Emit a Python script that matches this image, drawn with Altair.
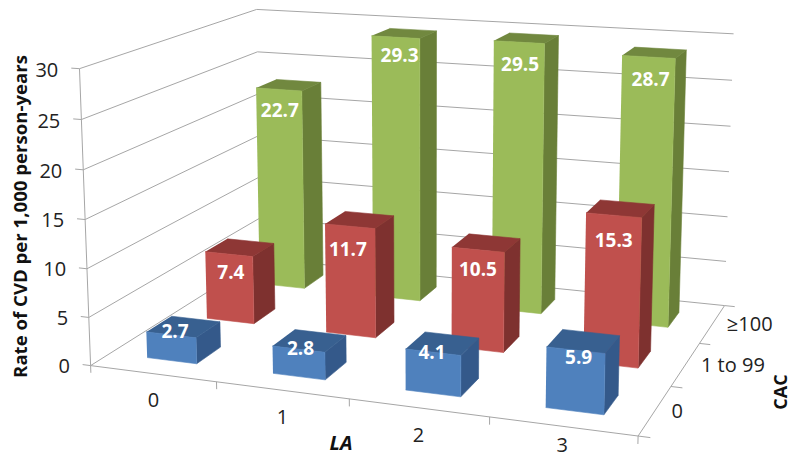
import numpy as np
import pandas as pd
import altair as alt

# ---- data ----
la_labels = ["0", "1", "2", "3"]
cac_labels = ["0", "1 to 99", "≥100"]
rate_cac_0 = [2.7, 2.8, 4.1, 5.9]
rate_cac_1_99 = [7.4, 11.7, 10.5, 15.3]
rate_cac_100 = [22.7, 29.3, 29.5, 28.7]
value_ticks = [0, 5, 10, 15, 20, 25, 30]
rows = [rate_cac_0, rate_cac_1_99, rate_cac_100]

# ---- styling ----
faces = [
    {"front": "#4F81BD", "side": "#34598A", "top": "#386090", "dx": [4, 2, -1, 3], "dy": [-3, 0, 1, 8]},
    {"front": "#C0504D", "side": "#7E312F", "top": "#8E3735", "dx": [2, -2, 0, 0], "dy": [19, 24, 20, 26]},
    {"front": "#9BBB59", "side": "#697F38", "top": "#71883F", "dx": [1, 4, 1, 2], "dy": [22, 19, 23, 23]},
]
GRID = "#A6A6A6"
BAR = 0.4
FONT = "Open Sans"

# ---- camera: perspective calibrated on the frame of the 3D box ----
calib = []
for z, p in zip(value_ticks, [(91, 365), (90, 317), (88, 268), (85, 220), (83, 170), (81, 119), (78, 67)]):
    calib.append(((0, 0, z), p))
for z, p in zip(value_ticks, [(260, 257), (259, 218), (258, 178), (258, 137), (258, 95), (258, 51), (258, 8)]):
    calib.append(((0, 3, z), p))
for z, p in zip(value_ticks, [(726, 304), (726, 261), (726, 217), (728, 172), (730, 127), (732, 81), (734, 34)]):
    calib.append(((4, 3, z), p))
calib += [((1, 0, 0), (216, 384)), ((2, 0, 0), (348, 402)), ((3, 0, 0), (487, 419)),
          ((4, 0, 0), (636, 435)), ((4, 1, 0), (675, 386)), ((4, 2, 0), (702, 342)),
          ((0.3, 0.3, 0), (148, 357)), ((0.7, 0.3, 0), (198, 363)),
          ((3.3, 0.3, 0), (545, 407)), ((3.7, 0.3, 0), (603, 414)),
          ((0.3, 2.3, 22.7), (258, 88)), ((3.3, 2.3, 28.7), (622, 56)),
          ((0.3, 1.3, 7.4), (207, 252))]
A, b = [], []
for (X, Y, Z), (u, v) in calib:
    A.append([X, Y, Z, 1, 0, 0, 0, 0, -u * X, -u * Y, -u * Z]); b.append(u)
    A.append([0, 0, 0, 0, X, Y, Z, 1, -v * X, -v * Y, -v * Z]); b.append(v)
h = np.linalg.lstsq(np.array(A, float), np.array(b, float), rcond=None)[0]
P = np.append(h, 1).reshape(3, 4)


def proj(x, y, z):
    q = P @ np.array([x, y, z, 1.0])
    return float(q[0] / q[2]), float(q[1] / q[2])


# ---- faces of the bars, painted back to front ----
poly = []
fid = 0


def add_face(corners, fill):
    global fid
    for i, c in enumerate(corners):
        px, py = proj(*c)
        poly.append({"face": fid, "i": i, "px": px, "py": py, "fill": fill})
    fid += 1


labels = []
for r in [2, 1, 0]:
    for c, val in enumerate(rows[r]):
        x0, x1 = c + 0.5 - BAR / 2, c + 0.5 + BAR / 2
        y0, y1 = r + 0.5 - BAR / 2, r + 0.5 + BAR / 2
        st = faces[r]
        add_face([(x1, y0, 0), (x1, y1, 0), (x1, y1, val), (x1, y0, val)], st["side"])
        add_face([(x0, y0, val), (x1, y0, val), (x1, y1, val), (x0, y1, val)], st["top"])
        add_face([(x0, y0, 0), (x1, y0, 0), (x1, y0, val), (x0, y0, val)], st["front"])
        lx, ly = proj(c + 0.5, y0, val)
        labels.append({"px": lx + st["dx"][c], "py": ly + st["dy"][c], "t": f"{val:.1f}"})
poly = pd.DataFrame(poly)
labels = pd.DataFrame(labels)

# ---- frame, gridlines, ticks ----
lines = []
lid = 0


def add_line(*pts):
    global lid
    for i, c in enumerate(pts):
        px, py = proj(*c)
        lines.append({"l": lid, "i": i, "px": px, "py": py})
    lid += 1


for z in value_ticks:
    add_line((-0.065, 0, z), (0, 0, z), (0, 3, z), (4, 3, z))
add_line((0, 0, 0), (0, 0, 30))
add_line((0, 0, 0), (4, 0, 0), (4, 3, 0))
for c in range(5):
    add_line((c, 0, 0), (c, 0, -0.75))
for r in range(4):
    add_line((4, r, 0), (4.08, r, 0))
lines = pd.DataFrame(lines)

# ---- axis texts ----
ticks_txt = []
for z in value_ticks:
    px, py = proj(-0.17, 0, z - 0.4)
    ticks_txt.append({"px": px, "py": py, "t": str(z), "a": "right"})
for c, s in enumerate(la_labels):
    px, py = proj(c + 0.5, 0, -2.8)
    ticks_txt.append({"px": px, "py": min(py, 446.0), "t": s, "a": "center"})
for r, s in enumerate(cac_labels):
    px, py = proj(4.11, r + 0.5, 0)
    ticks_txt.append({"px": px, "py": py, "t": s, "a": "left"})
ticks_txt = pd.DataFrame(ticks_txt)

X = alt.X("px:Q", scale=alt.Scale(domain=[8, 792], zero=False, nice=False), axis=None)
Y = alt.Y("py:Q", scale=alt.Scale(domain=[457, 8], zero=False, nice=False), axis=None)

grid = alt.Chart(lines).mark_line(color=GRID, strokeWidth=1).encode(x=X, y=Y, detail="l:N", order="i:Q")
bars = alt.Chart(poly).mark_line(filled=True, strokeWidth=0.6).encode(
    x=X, y=Y, detail="face:N", order="i:Q",
    color=alt.Color("fill:N", scale=None), stroke=alt.Stroke("fill:N", scale=None))
vals = alt.Chart(labels).mark_text(font=FONT, fontSize=19, fontWeight="bold", color="white").encode(x=X, y=Y, text="t:N")
tick_layers = [
    alt.Chart(ticks_txt[ticks_txt.a == a]).mark_text(font=FONT, fontSize=20, color="#222222", align=a).encode(x=X, y=Y, text="t:N")
    for a in ["right", "center", "left"]
]

t_y = alt.Chart(pd.DataFrame({"px": [20.5], "py": [216.5], "t": ["Rate of CVD per 1,000 person-years"]})).mark_text(
    font=FONT, fontSize=18.6, fontWeight="bold", color="#111111", angle=270).encode(x=X, y=Y, text="t:N")
t_x = alt.Chart(pd.DataFrame({"px": [341.0], "py": [444.0], "t": ["LA"]})).mark_text(
    font=FONT, fontSize=20, fontWeight="bold", fontStyle="italic", color="#111111").encode(x=X, y=Y, text="t:N")
t_z = alt.Chart(pd.DataFrame({"px": [782.0], "py": [392.0], "t": ["CAC"]})).mark_text(
    font=FONT, fontSize=18, fontWeight="bold", color="#111111", angle=270).encode(x=X, y=Y, text="t:N")

chart = alt.layer(grid, bars, vals, *tick_layers, t_y, t_x, t_z).properties(
    width=784, height=449, padding=0, autosize=alt.AutoSizeParams(type="none"), background="white"
).configure_view(stroke=None)

chart.save("out.html", embed_options={"renderer": "svg", "actions": False})
